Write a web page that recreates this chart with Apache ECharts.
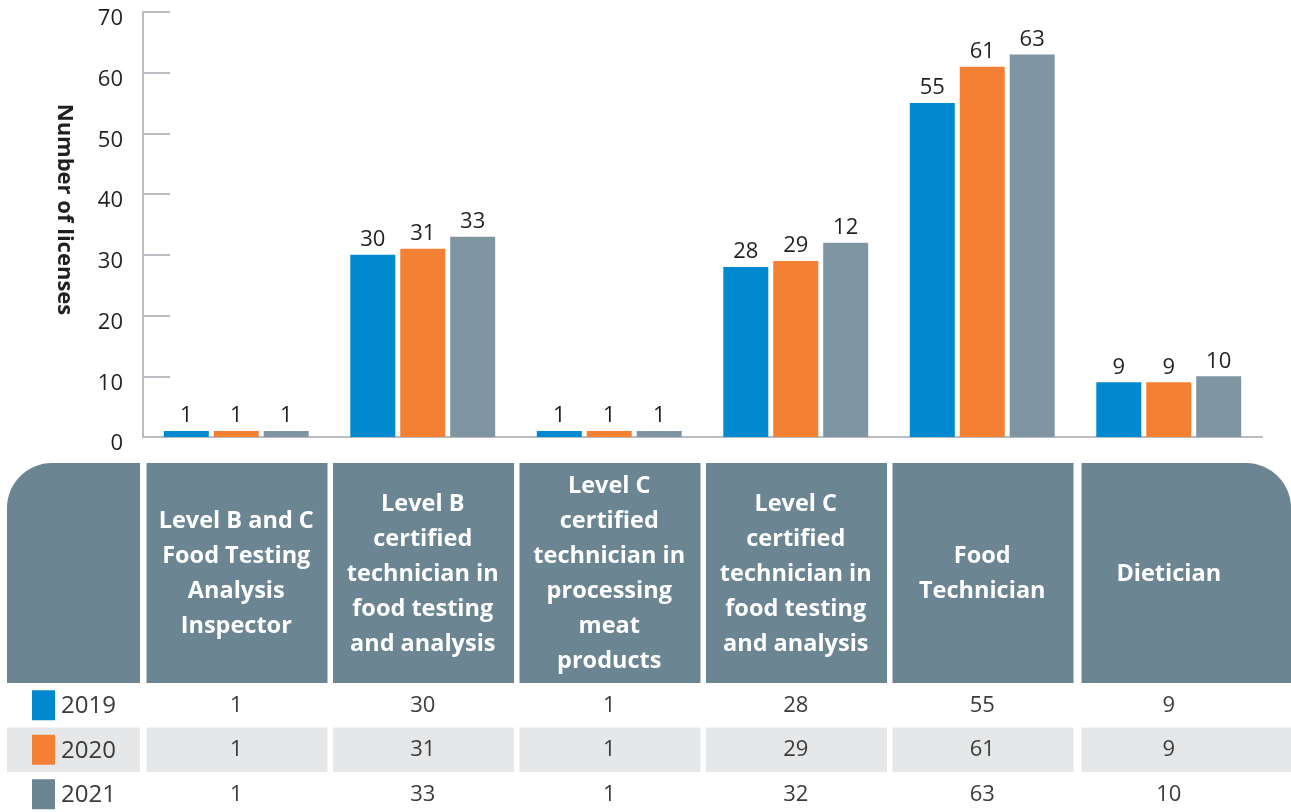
<!DOCTYPE html>
<html>
<head>
<meta charset="utf-8">
<script src="https://cdn.jsdelivr.net/npm/echarts@6/dist/echarts.min.js"></script>
<style>
  html, body { margin: 0; padding: 0; background: #fff; }
  #chart { width: 1291px; height: 812px; }
</style>
</head>
<body>
<div id="chart"></div>
<script>
var categories = [
  'Level B and C\nFood Testing\nAnalysis\nInspector',
  'Level B\ncertified\ntechnician in\nfood testing\nand analysis',
  'Level C\ncertified\ntechnician in\nprocessing\nmeat\nproducts',
  'Level C\ncertified\ntechnician in\nfood testing\nand analysis',
  'Food\nTechnician',
  'Dietician'
];
var years = ['2019', '2020', '2021'];
var v2019 = [1, 30, 1, 28, 55, 9];
var v2020 = [1, 31, 1, 29, 61, 9];
var v2021 = [1, 33, 1, 32, 63, 10];
// label printed over the 2021 bars in the source (one differs from its bar)
var labels2021 = ['1', '33', '1', '12', '63', '10'];
var yTicks = { min: 0, max: 70, interval: 10 };

var colors = ['#0089cf', '#f48133', '#7f96a2'];
var headerColor = '#6b8592';
var font = '"Open Sans"';

var chart = echarts.init(document.getElementById('chart'));

function barSeries(name, data, color, labels) {
  return {
    name: name,
    type: 'bar',
    data: data,
    barWidth: 45,
    barGap: '11%',
    itemStyle: { color: color },
    label: {
      show: true,
      position: 'top',
      distance: 4,
      color: '#231f20',
      fontSize: 22,
      fontFamily: font,
      formatter: function (p) { return labels ? labels[p.dataIndex] : p.value; }
    }
  };
}

var option = {
  animation: false,
  grid: { left: 143, right: 29, top: 12, bottom: 375 },
  xAxis: {
    type: 'category',
    data: categories,
    axisLabel: { show: false },
    axisLine: { lineStyle: { color: '#b9bcc1', width: 2 } },
    axisTick: { inside: true, length: 9, lineStyle: { color: '#b9bcc1', width: 2 } }
  },
  yAxis: {
    type: 'value',
    min: yTicks.min,
    max: yTicks.max,
    interval: yTicks.interval,
    name: 'Number of licenses',
    nameLocation: 'middle',
    nameRotate: -90,
    nameGap: 68,
    nameTextStyle: { fontSize: 22, fontWeight: 'bold', color: '#231f20', fontFamily: font, padding: [0, 30, 0, 0] },
    axisLine: { show: true, lineStyle: { color: '#b9bcc1', width: 2 } },
    axisTick: { show: true, inside: true, length: 27, lineStyle: { color: '#b9bcc1', width: 2 } },
    splitLine: { show: false },
    axisLabel: { fontSize: 22, color: '#231f20', fontFamily: font, margin: 20, verticalAlign: 'top', lineHeight: 14 }
  },
  series: [
    barSeries(years[0], v2019, colors[0]),
    barSeries(years[1], v2020, colors[1]),
    barSeries(years[2], v2021, colors[2], labels2021)
  ]
};
chart.setOption(option);

// data table under the chart, columns follow the category axis
var headTop = 463, headBottom = 683, rowH = 44.5;
var rows = [v2019, v2020, v2021];
var els = [];
var c0 = chart.convertToPixel({ xAxisIndex: 0 }, 0);
var c1 = chart.convertToPixel({ xAxisIndex: 0 }, 1);
var band = c1 - c0;

function cellBox(i) {
  if (i < 0) return { x: 7, w: 133 };
  var left = chart.convertToPixel({ xAxisIndex: 0 }, i) - band / 2;
  if (i === categories.length - 1) return { x: left + 6, w: 1291 - left - 6 };
  return { x: left + 3.5, w: band - 5.5 };
}

for (var i = -1; i < categories.length; i++) {
  var b = cellBox(i);
  var r = [0, 0, 0, 0];
  if (i < 0) r = [45, 0, 0, 0];
  if (i === categories.length - 1) r = [0, 45, 0, 0];
  els.push({
    type: 'rect',
    shape: { x: b.x, y: headTop, width: b.w, height: headBottom - headTop, r: r },
    style: { fill: headerColor }
  });
  // grey band of 2020 row
  els.push({
    type: 'rect',
    shape: { x: b.x, y: headBottom + rowH, width: b.w, height: rowH },
    style: { fill: '#e6e7e9' }
  });
  if (i >= 0) {
    var cx = chart.convertToPixel({ xAxisIndex: 0 }, i);
    els.push({
      type: 'text',
      x: cx,
      y: (headTop + headBottom) / 2 + 1,
      style: {
        text: categories[i],
        fill: '#fff',
        font: 'bold 23.5px ' + font,
        lineHeight: 35,
        align: 'center',
        verticalAlign: 'middle'
      }
    });
    for (var k = 0; k < rows.length; k++) {
      els.push({
        type: 'text',
        x: cx,
        y: headBottom + rowH * k + rowH / 2,
        style: {
          text: String(rows[k][i]),
          fill: '#3b3b3b',
          font: '22px ' + font,
          align: 'center',
          verticalAlign: 'middle'
        }
      });
    }
  }
}

for (var k = 0; k < years.length; k++) {
  var yc = headBottom + rowH * k + rowH / 2;
  els.push({
    type: 'rect',
    shape: { x: 32, y: yc - 15, width: 23, height: 30 },
    style: { fill: k === 2 ? '#6b8592' : colors[k] }
  });
  els.push({
    type: 'text',
    x: 61,
    y: yc + 1,
    style: {
      text: years[k],
      fill: '#3b3b3b',
      font: '24px ' + font,
      align: 'left',
      verticalAlign: 'middle'
    }
  });
}

chart.setOption({ graphic: { elements: els } });
</script>
</body>
</html>
